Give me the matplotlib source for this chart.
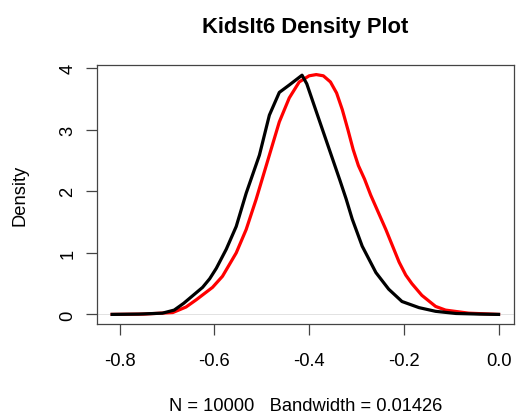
import numpy as np
import matplotlib.pyplot as plt

plt.rcParams['font.family'] = ['Liberation Sans', 'DejaVu Sans']

# density curves
black_x = [-0.816, -0.76, -0.71, -0.685, -0.665, -0.645, -0.625, -0.61, -0.596, -0.575,
           -0.554, -0.533, -0.505, -0.484, -0.463, -0.442, -0.415, -0.405, -0.385,
           -0.36, -0.335, -0.322, -0.309, -0.288, -0.259, -0.232, -0.204, -0.168,
           -0.133, -0.09, -0.04, 0.0]
black_y = [0.0, 0.005, 0.02, 0.07, 0.18, 0.31, 0.44, 0.58, 0.75, 1.06,
           1.43, 1.97, 2.59, 3.24, 3.61, 3.73, 3.89, 3.75, 3.30,
           2.74, 2.18, 1.88, 1.55, 1.11, 0.68, 0.41, 0.21, 0.11,
           0.05, 0.015, 0.005, 0.0]

red_x = [-0.816, -0.75, -0.688, -0.66, -0.638, -0.604, -0.583, -0.554, -0.533, -0.512,
         -0.484, -0.463, -0.442, -0.421, -0.40, -0.385, -0.37, -0.355, -0.342, -0.33,
         -0.318, -0.307, -0.296, -0.283, -0.27, -0.238, -0.21, -0.196, -0.183, -0.162,
         -0.133, -0.112, -0.063, 0.0]
red_y = [0.0, 0.005, 0.03, 0.12, 0.24, 0.44, 0.62, 1.0, 1.38, 1.87,
         2.59, 3.13, 3.52, 3.78, 3.88, 3.90, 3.88, 3.78, 3.6, 3.33,
         3.0, 2.68, 2.42, 2.2, 1.94, 1.38, 0.85, 0.64, 0.5, 0.31,
         0.13, 0.07, 0.02, 0.0]

x_ticks = [-0.8, -0.6, -0.4, -0.2, 0.0]
y_ticks = [0, 1, 2, 3, 4]

fig = plt.figure(figsize=(5.17, 4.14), dpi=100)
ax = fig.add_axes([0.1876, 0.2150, 0.8066, 0.6256])

ax.axhline(0, color='#dddddd', lw=0.6, zorder=1)
ax.plot(red_x, red_y, color='red', lw=2.3, zorder=2)
ax.plot(black_x, black_y, color='black', lw=2.3, zorder=3)

ax.set_xlim(-0.848, 0.0326)
ax.set_ylim(-0.156, 4.056)
ax.set_xticks(x_ticks)
ax.set_xticklabels(['-0.8', '-0.6', '-0.4', '-0.2', '0.0'])
ax.set_yticks(y_ticks)
ax.set_yticklabels([str(v) for v in y_ticks], rotation=90, va='center')

for s in ax.spines.values():
    s.set_color('#444444')
    s.set_linewidth(0.9)
ax.tick_params(length=8, width=0.9, color='#444444', labelsize=13.2)
ax.tick_params(axis='x', pad=12)
ax.tick_params(axis='y', pad=7)

ax.set_title('KidsIt6 Density Plot', fontsize=15.8, fontweight='bold', pad=24)
ax.set_xlabel('N = 10000   Bandwidth = 0.01426', fontsize=13.2, labelpad=20)
ax.set_ylabel('Density', fontsize=13.2, labelpad=22)

fig.savefig('out.png', dpi=100)
